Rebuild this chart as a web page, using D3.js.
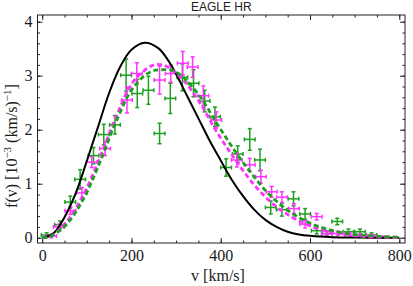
<!DOCTYPE html>
<html>
<head>
<meta charset="utf-8">
<script src="https://cdn.jsdelivr.net/npm/d3@7"></script>
<style>
  body { margin: 0; background: #fff; }
  .tick text { font-family: 'Liberation Serif', 'DejaVu Serif', serif; font-size: 16px; fill: #1a1a1a; }
  .axis line { stroke: #222; }
  .axis path { display: none; }
</style>
</head>
<body>
<div id="chart"></div>
<script>
  var width = 413;
  var height = 286;

  // model curves: v [km/s], f(v) [1e-3 (km/s)^-1]
  var shmV = [0, 25, 50, 75, 100, 125, 150, 175, 200, 230, 260, 285, 300, 325, 350, 375, 400, 425, 450, 475, 500, 525, 550, 575, 600, 650, 700, 800];
  var shmF = [0, 0.08, 0.38, 0.82, 1.42, 2.05, 2.68, 3.17, 3.48, 3.61, 3.51, 3.25, 3.03, 2.62, 2.21, 1.80, 1.43, 1.07, 0.77, 0.52, 0.33, 0.20, 0.11, 0.06, 0.035, 0.01, 0.003, 0];

  var magV = [0, 18, 55, 92, 130, 167, 204, 242, 257, 279, 316, 354, 391, 428, 466, 503, 540, 578, 615, 652, 690, 727, 764, 800];
  var magF = [0, 0.02, 0.30, 0.79, 1.50, 2.27, 2.89, 3.17, 3.21, 3.17, 2.92, 2.49, 1.96, 1.50, 1.07, 0.73, 0.48, 0.30, 0.17, 0.10, 0.05, 0.02, 0.01, 0];

  var grnV = [0, 18, 55, 92, 130, 167, 204, 242, 268, 294, 316, 354, 391, 428, 466, 503, 540, 578, 615, 652, 690, 727, 764, 800];
  var grnF = [0, 0.02, 0.25, 0.71, 1.41, 2.18, 2.78, 3.07, 3.11, 3.09, 2.97, 2.61, 2.12, 1.65, 1.22, 0.85, 0.57, 0.36, 0.22, 0.13, 0.07, 0.04, 0.02, 0.01];

  // simulation points: v, f, error on f
  var grnPtsV = [10, 40, 63, 85, 115, 138, 163, 188, 213, 238, 263, 287, 314, 339, 364, 387, 412, 438, 465, 488, 512, 537, 563, 589, 615, 638, 661, 686, 712, 738];
  var grnPtsF = [0.05, 0.24, 0.66, 1.08, 1.52, 1.91, 2.09, 3.01, 2.67, 2.73, 1.93, 2.58, 2.97, 2.86, 2.53, 2.24, 1.30, 1.55, 1.82, 1.44, 0.56, 0.52, 0.72, 0.44, 0.13, 0.08, 0.30, 0.11, 0.11, 0.05];
  var grnPtsE = [0.04, 0.07, 0.11, 0.18, 0.15, 0.19, 0.17, 0.30, 0.26, 0.26, 0.19, 0.28, 0.25, 0.25, 0.20, 0.18, 0.16, 0.15, 0.20, 0.20, 0.12, 0.12, 0.13, 0.10, 0.06, 0.05, 0.06, 0.05, 0.05, 0.04];

  var magPtsV = [20, 37, 63, 89, 111, 141, 190, 212, 263, 288, 315, 337, 361, 390, 436, 465, 490, 514, 537, 564, 589, 615, 638, 662, 690, 713, 738, 764];
  var magPtsF = [0.03, 0.20, 0.50, 0.83, 1.40, 1.65, 2.55, 3.04, 2.92, 3.04, 3.23, 3.16, 2.63, 2.18, 1.44, 1.35, 1.13, 0.85, 0.75, 0.54, 0.25, 0.39, 0.07, 0.08, 0.05, 0.04, 0.03, 0.01];
  var magPtsE = [0.03, 0.05, 0.07, 0.10, 0.10, 0.13, 0.24, 0.20, 0.26, 0.16, 0.22, 0.19, 0.18, 0.15, 0.13, 0.12, 0.12, 0.10, 0.10, 0.09, 0.07, 0.06, 0.05, 0.04, 0.04, 0.03, 0.03, 0.02];

  var binHalf = 12; // km/s

  var xTicks = [0, 200, 400, 600, 800];
  var yTicks = [0, 1, 2, 3, 4];

  var plotL = 37.5, plotR = 405, plotT = 15, plotB = 243;

  var svg = d3.select('#chart').append('svg')
    .attr('width', width)
    .attr('height', height);

  var xScale = d3.scaleLinear().domain([-10.5, 812.8]).range([plotL, plotR]);
  var yScale = d3.scaleLinear().domain([-0.098, 4.124]).range([plotB, plotT]);

  var xMinor = d3.range(0, 801, 50);
  var yMinor = d3.range(0, 4.01, 0.2);

  // ticks, inward on all four sides
  function addAxis(axis, tr) {
    svg.append('g').attr('class', 'axis').attr('transform', tr).call(axis);
  }
  addAxis(d3.axisBottom(xScale).tickValues(xMinor).tickSize(-2.5).tickFormat(''), 'translate(0,' + plotB + ')');
  addAxis(d3.axisTop(xScale).tickValues(xMinor).tickSize(-2.5).tickFormat(''), 'translate(0,' + plotT + ')');
  addAxis(d3.axisLeft(yScale).tickValues(yMinor).tickSize(-2.5).tickFormat(''), 'translate(' + plotL + ',0)');
  addAxis(d3.axisRight(yScale).tickValues(yMinor).tickSize(-2.5).tickFormat(''), 'translate(' + plotR + ',0)');

  addAxis(d3.axisBottom(xScale).tickValues(xTicks).tickSize(-5).tickPadding(7).tickFormat(d3.format('d')), 'translate(0,' + plotB + ')');
  addAxis(d3.axisTop(xScale).tickValues(xTicks).tickSize(-5).tickFormat(''), 'translate(0,' + plotT + ')');
  addAxis(d3.axisLeft(yScale).tickValues(yTicks).tickSize(-5).tickPadding(5).tickFormat(d3.format('d')), 'translate(' + plotL + ',0)');
  addAxis(d3.axisRight(yScale).tickValues(yTicks).tickSize(-5).tickFormat(''), 'translate(' + plotR + ',0)');

  // error bar points
  function drawPoints(vs, fs, es, color) {
    var g = svg.append('g').attr('stroke', color).attr('stroke-width', 1.5).attr('fill', 'none');
    vs.forEach(function(v, i) {
      var cx = xScale(v), cy = yScale(fs[i]);
      var x0 = xScale(v - binHalf), x1 = xScale(v + binHalf);
      var y0 = yScale(fs[i] - es[i]), y1 = yScale(fs[i] + es[i]);
      g.append('line').attr('x1', x0).attr('x2', x1).attr('y1', cy).attr('y2', cy);
      g.append('line').attr('x1', cx).attr('x2', cx).attr('y1', y0).attr('y2', y1);
      g.append('line').attr('x1', x0).attr('x2', x0).attr('y1', cy - 2).attr('y2', cy + 2);
      g.append('line').attr('x1', x1).attr('x2', x1).attr('y1', cy - 2).attr('y2', cy + 2);
      g.append('line').attr('x1', cx - 2).attr('x2', cx + 2).attr('y1', y0).attr('y2', y0);
      g.append('line').attr('x1', cx - 2).attr('x2', cx + 2).attr('y1', y1).attr('y2', y1);
    });
  }
  drawPoints(grnPtsV, grnPtsF, grnPtsE, '#1ea01e');
  drawPoints(magPtsV, magPtsF, magPtsE, '#ff33ff');

  // curves
  var line = d3.line()
    .x(function(d) { return xScale(d[0]); })
    .y(function(d) { return yScale(d[1]); })
    .curve(d3.curveCatmullRom);

  svg.append('path')
    .datum(d3.zip(shmV, shmF))
    .attr('d', line)
    .attr('fill', 'none')
    .attr('stroke', '#000')
    .attr('stroke-width', 2);

  svg.append('path')
    .datum(d3.zip(magV, magF))
    .attr('d', line)
    .attr('fill', 'none')
    .attr('stroke', '#ff33ff')
    .attr('stroke-width', 2.8)
    .attr('stroke-dasharray', '5,3');

  svg.append('path')
    .datum(d3.zip(grnV, grnF))
    .attr('d', line)
    .attr('fill', 'none')
    .attr('stroke', '#1ea01e')
    .attr('stroke-width', 2.8)
    .attr('stroke-dasharray', '5,3');

  // frame
  svg.append('rect')
    .attr('x', plotL).attr('y', plotT)
    .attr('width', plotR - plotL).attr('height', plotB - plotT)
    .attr('fill', 'none')
    .attr('stroke', '#222')
    .attr('stroke-width', 1);

  // title and axis labels
  svg.append('text')
    .attr('x', (plotL + plotR) / 2)
    .attr('y', 11)
    .attr('text-anchor', 'middle')
    .style('font-family', 'Liberation Sans, Arial, sans-serif')
    .style('font-size', '12px')
    .style('fill', '#222')
    .text('EAGLE HR');

  svg.append('text')
    .attr('x', 218)
    .attr('y', 281)
    .attr('text-anchor', 'middle')
    .style('font-family', 'Liberation Serif, serif')
    .style('font-size', '16px')
    .style('fill', '#1a1a1a')
    .text('v [km/s]');

  var yl = svg.append('text')
    .attr('transform', 'translate(17,146) rotate(-90)')
    .attr('text-anchor', 'middle')
    .style('font-family', 'Liberation Serif, serif')
    .style('font-size', '16px')
    .style('fill', '#1a1a1a');
  yl.append('tspan').text('f(v) [10');
  yl.append('tspan').attr('dy', -6).style('font-size', '11px').text('\u22123');
  yl.append('tspan').attr('dy', 6).text(' (km/s)');
  yl.append('tspan').attr('dy', -6).style('font-size', '11px').text('\u22121');
  yl.append('tspan').attr('dy', 6).text(']');
</script>
</body>
</html>
